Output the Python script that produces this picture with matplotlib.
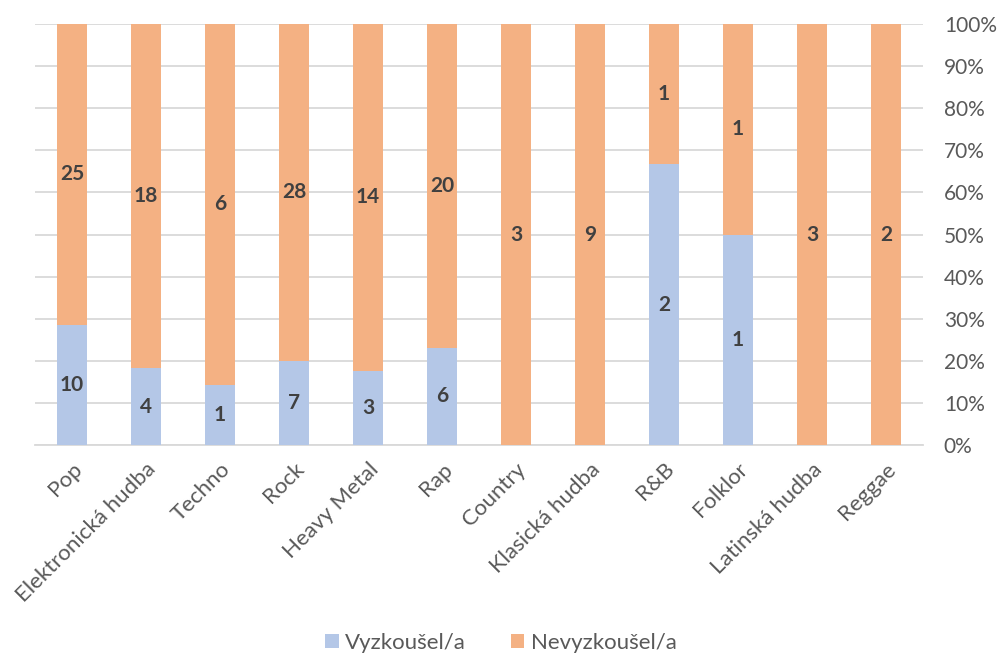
import matplotlib.pyplot as plt
import numpy as np

categories = ['Pop', 'Elektronická hudba', 'Techno', 'Rock', 'Heavy Metal', 'Rap',
              'Country', 'Klasická hudba', 'R&B', 'Folklor', 'Latinská hudba', 'Reggae']
tried = [10, 4, 1, 7, 3, 6, 0, 0, 2, 1, 0, 0]
not_tried = [25, 18, 6, 28, 14, 20, 3, 9, 1, 1, 3, 2]

blue = '#B4C7E7'
orange = '#F4B183'
grey = '#595959'

plt.rcParams['font.family'] = ['Lato', 'DejaVu Sans']

tried = np.array(tried, dtype=float)
not_tried = np.array(not_tried, dtype=float)
total = tried + not_tried
p_tried = tried / total * 100
p_not = not_tried / total * 100

fig = plt.figure(figsize=(10.02, 6.63), dpi=100)
ax = fig.add_axes([35 / 1002, 218 / 663, 888 / 1002, 421 / 663])

x = np.arange(len(categories))
ax.bar(x, p_tried, width=0.4, color=blue, label='Vyzkoušel/a', zorder=3)
ax.bar(x, p_not, width=0.4, bottom=p_tried, color=orange, label='Nevyzkoušel/a', zorder=3)

for i in range(len(categories)):
    if tried[i] > 0:
        ax.text(x[i], p_tried[i] / 2, '%d' % tried[i], ha='center', va='center',
                fontsize=15, fontweight='bold', color='#404040', zorder=4)
    if not_tried[i] > 0:
        ax.text(x[i], p_tried[i] + p_not[i] / 2, '%d' % not_tried[i], ha='center', va='center',
                fontsize=15, fontweight='bold', color='#404040', zorder=4)

ax.set_xlim(-0.5, len(categories) - 0.5)
ax.set_ylim(0, 100)
ax.yaxis.tick_right()
ax.set_yticks(range(0, 101, 10))
ax.set_yticklabels(['%d%%' % v for v in range(0, 101, 10)], fontsize=15, color=grey)
ax.tick_params(axis='y', length=0, pad=15)
ax.grid(axis='y', color='#D9D9D9', linewidth=1.3, zorder=0)

ax.set_xticks(x)
ax.set_xticklabels(categories, rotation=45, ha='right', rotation_mode='anchor',
                   fontsize=16, color=grey)
ax.tick_params(axis='x', length=0, pad=10)

for s in ['top', 'left', 'right']:
    ax.spines[s].set_visible(False)
ax.spines['bottom'].set_color('#D9D9D9')
ax.spines['bottom'].set_linewidth(1.3)

fig.legend(loc='lower center', bbox_to_anchor=(0.5, -0.015), ncol=2, frameon=False,
           fontsize=16, handlelength=0.6, handleheight=0.6, handletextpad=0.3,
           columnspacing=2.0, labelcolor=grey)

fig.savefig('out.png', dpi=100)
